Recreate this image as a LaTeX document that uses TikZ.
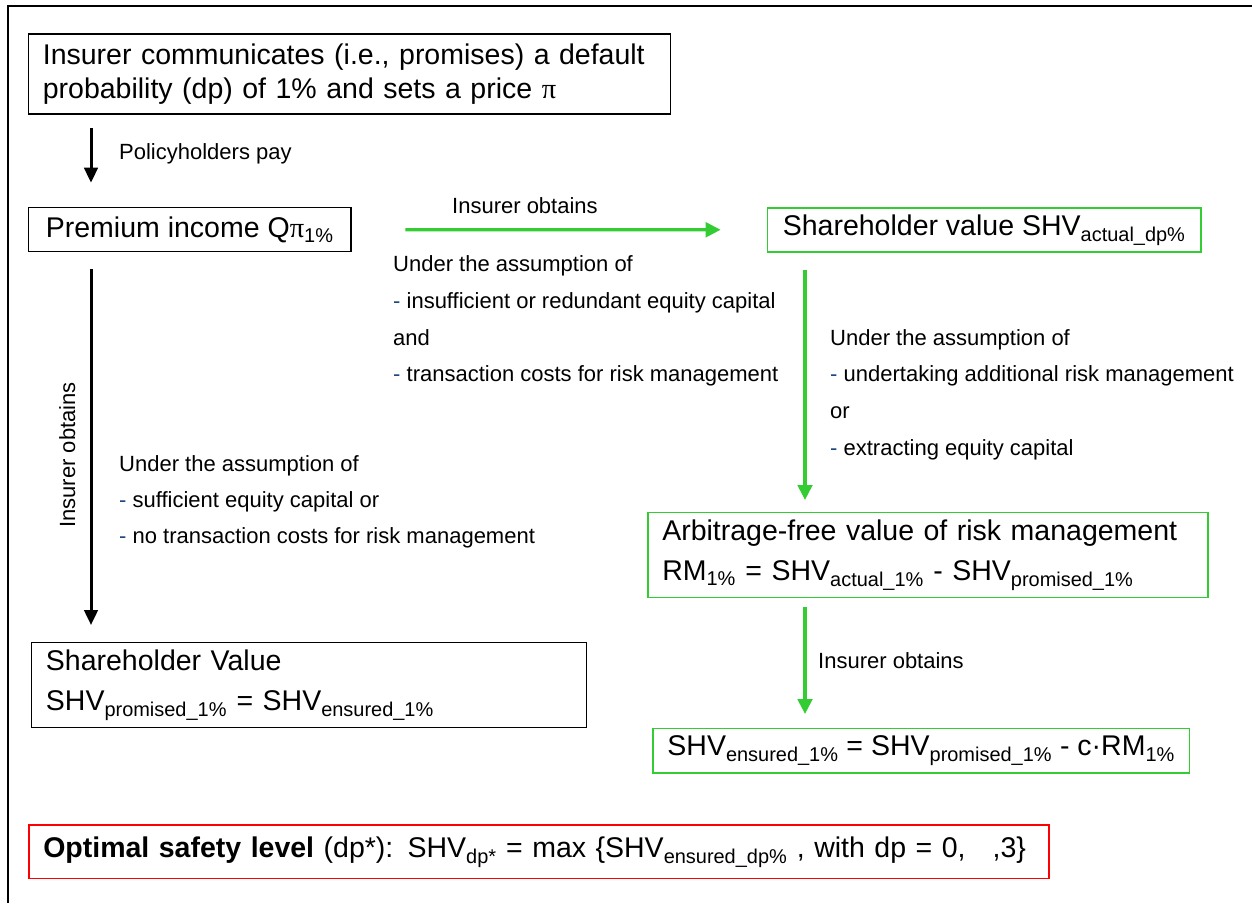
\documentclass[tikz,border=0pt]{standalone}
\usepackage{fontspec}
\setmainfont{Liberation Sans}
\newfontfamily\symserif{Liberation Serif}
\usepackage{tikz}
\usetikzlibrary{arrows.meta, positioning, calc}
\definecolor{grn}{RGB}{51,204,51}
\definecolor{dashblue}{RGB}{31,73,125}
\newcommand{\bdash}{\textcolor{dashblue}{-}}

\begin{document}
\begin{tikzpicture}[
    x=1pt, y=-1pt,
    box/.style={rectangle, draw, line width=1.3pt, anchor=north west, inner xsep=14.5pt, inner ysep=0pt, align=left, font=\fontsize{28.5}{34}\selectfont},
    gbox/.style={box, draw=grn, line width=1.6pt},
    rbox/.style={box, draw=red, line width=1.6pt},
    note/.style={anchor=north west, inner sep=0pt, align=left, font=\fontsize{22}{36.7}\selectfont},
    arrow/.style={-{Triangle[length=15pt, width=13.5pt]}, line width=3pt},
    garrow/.style={-{Triangle[length=15pt, width=14.5pt]}, color=grn, line width=3.3pt}
]
    \useasboundingbox (0,0) rectangle (1252,903);
    % outer frame
    \draw[line width=1.3pt] (1252,6) -- (8,6) -- (8,903);

    \coordinate (lx) at (91,0);
    \coordinate (gx) at (805,0);

    % boxes
    \node[box, text width=613pt, minimum height=80pt] (promise) at (27.7,33.3)
        {Insurer communicates (i.e., promises) a default\\probability (dp) of 1\% and sets a price {\symserif π}};
    \node[box, minimum width=322.7pt, minimum height=44pt] (premium) at (27.7,207)
        {Premium income Q{\symserif π}\textsubscript{1\%}};
    \node[gbox, minimum width=433.3pt, minimum height=44pt] (shvact) at (766.7,207)
        {Shareholder value SHV\textsubscript{actual\_dp\%}};
    \node[gbox, text width=531pt, minimum height=85pt, font=\fontsize{28.5}{40}\selectfont] (rmval) at (647,511.7)
        {Arbitrage-free value of risk management\\RM\textsubscript{1\%} = SHV\textsubscript{actual\_1\%} - SHV\textsubscript{promised\_1\%}};
    \node[gbox, minimum width=536.7pt, minimum height=44.6pt] (shvens) at (652,727.7)
        {SHV\textsubscript{ensured\_1\%} = SHV\textsubscript{promised\_1\%} - c·RM\textsubscript{1\%}};
    \node[box, text width=526pt, minimum height=84.7pt, font=\fontsize{28.5}{40}\selectfont] (shvval) at (30.8,642)
        {Shareholder Value\\SHV\textsubscript{promised\_1\%} = SHV\textsubscript{ensured\_1\%}};
    \node[rbox, text width=991pt, minimum height=53.4pt] (optimal) at (28,824.3)
        {\textbf{Optimal safety level} (dp*): SHV\textsubscript{dp*} = max \{SHV\textsubscript{ensured\_dp\%} , with dp = 0,\hspace{0.95em},3\}};

    % assumptions
    \node[note] (midnote) at (393,255.7)
        {Under the assumption of\\\bdash{} insufficient or redundant equity capital\\and\\\bdash{} transaction costs for risk management};
    \node[note] (rightnote) at (830,329)
        {Under the assumption of\\\bdash{} undertaking additional risk management\\or\\\bdash{} extracting equity capital};
    \node[note, font=\fontsize{22}{36}\selectfont] (leftnote) at (119,455.7)
        {Under the assumption of\\\bdash{} sufficient equity capital or\\\bdash{} no transaction costs for risk management};

    % arrow labels
    \node[note, anchor=base west] (paylbl) at (119,159) {Policyholders pay};
    \node[note, anchor=base west] (toplbl) at (452,213) {Insurer obtains};
    \node[note, anchor=base, rotate=90] (sidelbl) at (75,455) {Insurer obtains};
    \node[note, anchor=base west] (lowlbl) at (818,668) {Insurer obtains};

    % arrows
    \draw[arrow, shorten <=13.4pt, shorten >=24.3pt] (promise.south -| lx) -- (premium.north -| lx);
    \draw[arrow, shorten <=17pt, shorten >=17pt] (premium.south -| lx) -- (shvval.north -| lx);
    \draw[garrow, shorten <=53.6pt, shorten >=46pt] (premium.east) -- (shvact.west);
    \draw[garrow, shorten <=17pt, shorten >=11.7pt] (shvact.south -| gx) -- (rmval.north -| gx);
    \draw[garrow, shorten <=8.3pt, shorten >=13.7pt] (rmval.south -| gx) -- (shvens.north -| gx);
\end{tikzpicture}
\end{document}
